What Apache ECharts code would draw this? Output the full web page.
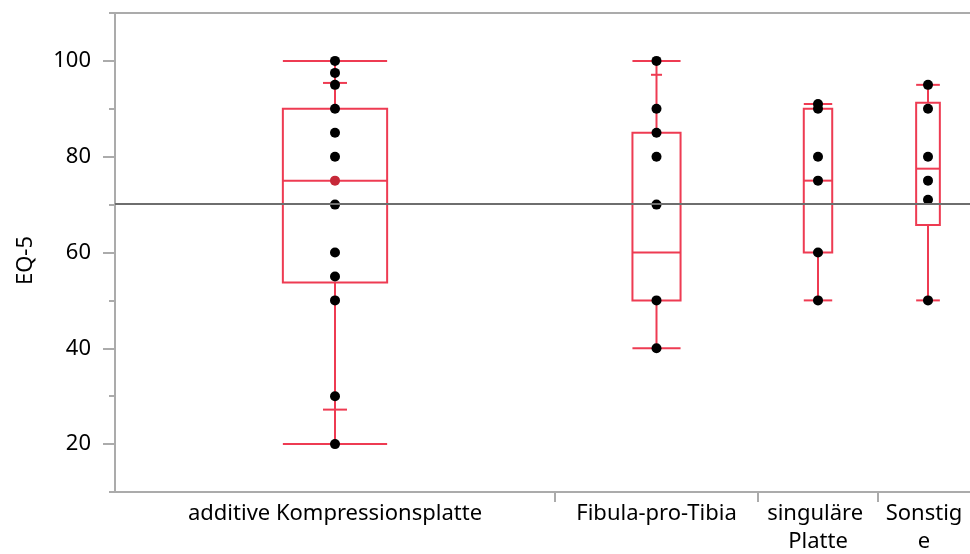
<!DOCTYPE html>
<html><head><meta charset="utf-8">
<script src="https://cdn.jsdelivr.net/npm/echarts@6/dist/echarts.min.js"></script>
<style>html,body{margin:0;padding:0;background:#fff}#c{width:970px;height:554px}</style>
</head><body><div id="c"></div>
<script>
// ---- data ----
const categories = ['additive Kompressionsplatte', 'Fibula-pro-Tibia', 'singuläre Platte', 'Sonstige'];
const groupWeight = [440, 203, 120, 100];      // relative band widths on the x scale
const boxMin    = [20,    40,   50,   50];
const boxP10    = [27.2,  40,   50,   50];
const boxQ1     = [53.75, 50,   60,   65.75];
const boxMedian = [75,    60,   75,   77.5];
const boxQ3     = [90,    85,   90,   91.25];
const boxP90    = [95.4,  97.1, 90.6, 95];
const boxMax    = [100,   100,  91,   95];
const pointsAdditive = [100, 97.5, 95, 90, 85, 80, 70, 60, 55, 50, 30, 20];
const pointsFibula   = [100, 90, 85, 80, 70, 50, 40];
const pointsSingular = [91, 90, 80, 75, 60, 50];
const pointsSonstige = [95, 90, 80, 75, 71, 50];
const highlightedPoints = [[0, 75]];           // [group index, value]
const grandMean = 70.2;
const yMajorTicks = [20, 40, 60, 80, 100];
const yMinorTicks = [10, 30, 50, 70, 90, 110];
const yAxisName = 'EQ-5';

// ---- derived ----
const pointsByGroup = [pointsAdditive, pointsFibula, pointsSingular, pointsSonstige];
const bandStart = [];
let acc = 0;
groupWeight.forEach(w => { bandStart.push(acc); acc += w; });
const xTotal = acc;
const bandEnd = bandStart.map((s, i) => s + groupWeight[i]);
const bandCenter = bandStart.map((s, i) => s + groupWeight[i] / 2);

const RED = '#EE3B52';
const AXIS = '#ABABAB';
const FONT = '"Noto Sans", "Open Sans", sans-serif';
const FS = 22;

const boxData = categories.map((c, i) => [i, boxMin[i], boxP10[i], boxQ1[i], boxMedian[i], boxQ3[i], boxP90[i], boxMax[i]]);
const scatterData = [];
pointsByGroup.forEach((arr, i) => arr.forEach(v => scatterData.push([bandCenter[i], v])));
const hiData = highlightedPoints.map(p => [bandCenter[p[0]], p[1]]);

function renderBox(params, api) {
  const i = api.value(0);
  const vals = [1,2,3,4,5,6,7].map(k => api.value(k));
  const [mn, p10, q1, med, q3, p90, mx] = vals;
  const xl = api.coord([bandStart[i], 0])[0];
  const xr = api.coord([bandEnd[i], 0])[0];
  const cx = api.coord([bandCenter[i], 0])[0];
  const bw = (xr - xl) * 0.237;
  const cw = bw * 0.23;
  const Y = v => api.coord([0, v])[1];
  const st = { stroke: RED, lineWidth: 2, fill: null };
  const line = (x1, y1, x2, y2) => ({ type: 'line', shape: { x1, y1, x2, y2 }, style: st });
  const children = [
    { type: 'rect', shape: { x: cx - bw / 2, y: Y(q3), width: bw, height: Y(q1) - Y(q3) }, style: { stroke: RED, lineWidth: 2, fill: 'none' } },
    line(cx - bw / 2, Y(med), cx + bw / 2, Y(med)),
    line(cx, Y(q3), cx, Y(mx)),
    line(cx, Y(q1), cx, Y(mn)),
    line(cx - bw / 2, Y(mx), cx + bw / 2, Y(mx)),
    line(cx - bw / 2, Y(mn), cx + bw / 2, Y(mn))
  ];
  if (p90 < mx) children.push(line(cx - cw / 2, Y(p90), cx + cw / 2, Y(p90)));
  if (p10 > mn) children.push(line(cx - cw / 2, Y(p10), cx + cw / 2, Y(p10)));
  return { type: 'group', children };
}

function renderLabel(params, api) {
  const i = api.value(0);
  const p0 = api.coord([bandStart[i], 10]);
  const xr = Math.min(api.coord([bandEnd[i], 10])[0], api.getWidth());
  const cx = (p0[0] + xr) / 2;
  return {
    type: 'text',
    x: cx, y: p0[1] + 8,
    style: {
      text: categories[i], align: 'center', verticalAlign: 'top',
      width: xr - p0[0] - 8, overflow: 'break',
      font: FS + 'px ' + FONT, lineHeight: 28, fill: '#000'
    }
  };
}

const chart = echarts.init(document.getElementById('c'), null, { renderer: 'canvas' });
chart.setOption({
  animation: false,
  backgroundColor: '#fff',
  grid: { left: 115, top: 13, right: -8, bottom: 62, containLabel: false, outerBoundsMode: 'none' },
  xAxis: [
    {
      type: 'value', min: 0, max: xTotal, position: 'bottom',
      axisLine: { show: true, lineStyle: { color: AXIS, width: 2 } },
      axisTick: { show: true, customValues: bandEnd.slice(0, -1), length: 10, inside: false, lineStyle: { color: AXIS, width: 2 } },
      axisLabel: { show: false }, splitLine: { show: false }
    },
    {
      type: 'value', min: 0, max: xTotal, position: 'top',
      axisLine: { show: true, lineStyle: { color: AXIS, width: 2 } },
      axisTick: { show: false }, axisLabel: { show: false }, splitLine: { show: false }
    }
  ],
  yAxis: [
    {
      type: 'value', min: 10, max: 110, interval: 10, position: 'left',
      name: yAxisName, nameLocation: 'middle', nameRotate: 90, nameGap: 78,
      nameTextStyle: { fontFamily: FONT, fontSize: FS, color: '#000', padding: [0, 16, 0, 0] },
      axisLine: { show: true, lineStyle: { color: AXIS, width: 2 } },
      axisTick: { show: true, customValues: yMajorTicks, length: 12, lineStyle: { color: AXIS, width: 2 } },
      axisLabel: { show: true, customValues: yMajorTicks, margin: 24, fontFamily: FONT, fontSize: FS, color: '#000' },
      splitLine: { show: false }
    },
    {
      type: 'value', min: 10, max: 110, interval: 10, position: 'left',
      axisLine: { show: false },
      axisTick: { show: true, customValues: yMinorTicks, length: 6, lineStyle: { color: AXIS, width: 2 } },
      axisLabel: { show: false }, splitLine: { show: false }
    }
  ],
  series: [
    {
      type: 'line', data: [], z: 1, silent: true,
      markLine: {
        silent: true, symbol: 'none', label: { show: false },
        lineStyle: { color: '#6E6E6E', width: 2, type: 'solid' },
        data: [{ yAxis: grandMean }]
      }
    },
    { type: 'custom', renderItem: renderBox, data: boxData, z: 2, silent: true },
    { type: 'scatter', data: scatterData, symbol: 'circle', symbolSize: 10, itemStyle: { color: '#000', opacity: 1 }, z: 3, silent: true },
    { type: 'scatter', data: hiData, symbol: 'circle', symbolSize: 10, itemStyle: { color: '#C62838', opacity: 1 }, z: 4, silent: true },
    { type: 'custom', renderItem: renderLabel, data: categories.map((c, i) => [i]), clip: false, z: 5, silent: true }
  ]
});
</script></body></html>
